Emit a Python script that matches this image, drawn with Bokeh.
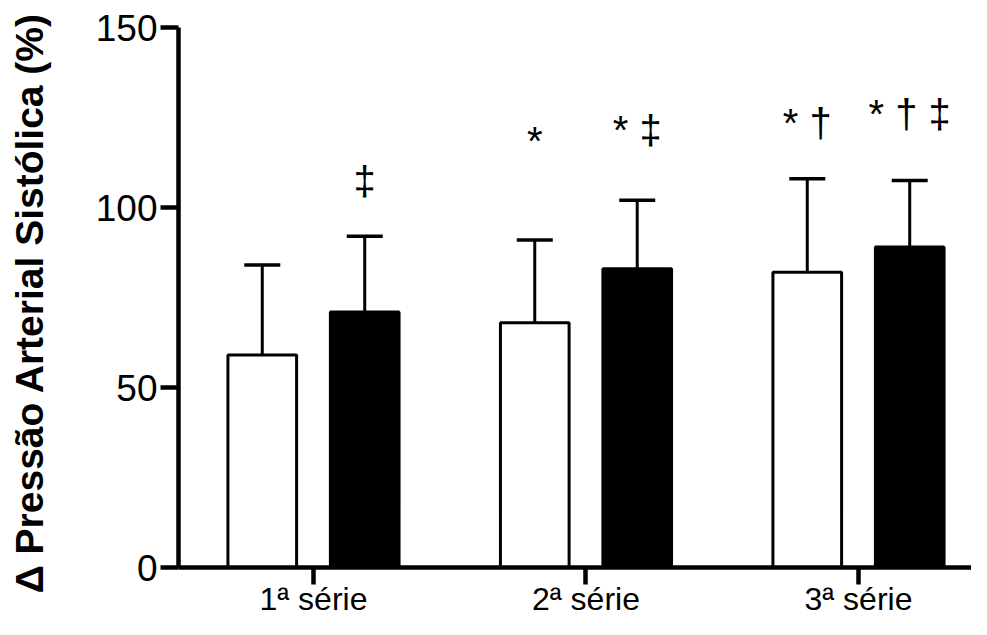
from bokeh.plotting import figure
from bokeh.models import Range1d, FixedTicker, Whisker, TeeHead, ColumnDataSource
from bokeh.embed import file_html
from bokeh.resources import INLINE
from bokeh.core.properties import value

# ---- data ----
categories = ["1ª série", "2ª série", "3ª série"]
control_mean = [59, 68, 82]
control_sd = [25, 23, 26]
exercise_mean = [71, 83, 89]
exercise_sd = [21, 19, 18.5]
control_marks = ["", "*", "* †"]
control_mark_y = [0, 118.5, 123.5]
exercise_marks = ["‡", "* ‡", "* † ‡"]
exercise_mark_y = [107.5, 121.5, 126]
y_ticks = [0, 50, 100, 150]
y_label = "Δ Pressão  Arterial Sistólica (%)"

FONT = "Liberation Sans"
pos = [i + 1 for i in range(len(categories))]
off = 0.188
bw = 0.252

p = figure(width=971, height=619, output_backend="svg", toolbar_location=None,
           x_range=Range1d(0.5046, 3.4147), y_range=Range1d(0, 150),
           min_border_left=178, min_border_right=0, min_border_top=27, min_border_bottom=49)
p.background_fill_color = "white"
p.border_fill_color = "white"
p.outline_line_color = None
p.grid.visible = False

def group(mean, sd, dx, fill, marks, mark_y):
    xs = [x + dx for x in pos]
    tops = [m + s for m, s in zip(mean, sd)]
    src = ColumnDataSource(dict(x=xs, mean=mean, top=tops))
    p.vbar(x="x", top="mean", bottom=0, width=bw, source=src,
           fill_color=fill, line_color="black", line_width=3)
    w = Whisker(base="x", lower="mean", upper="top", source=src,
                line_color="black", line_width=3,
                upper_head=TeeHead(size=36, line_width=3.5, line_color="black"),
                lower_head=None)
    p.add_layout(w)
    mx = [x for x, t in zip(xs, marks) if t]
    my = [y for y, t in zip(mark_y, marks) if t]
    mt = [t for t in marks if t]
    p.text(x=mx, y=my, text=mt, text_align="center", text_baseline="middle",
           text_font=value(FONT), text_font_size="40px", text_color="black")

group(control_mean, control_sd, -off, "white", control_marks, control_mark_y)
group(exercise_mean, exercise_sd, off, "black", exercise_marks, exercise_mark_y)

xa = p.xaxis[0]
xa.ticker = FixedTicker(ticks=pos)
xa.major_label_overrides = {x: c for x, c in zip(pos, categories)}
xa.minor_tick_line_color = None
xa.major_tick_in = 0
xa.major_tick_out = 17
xa.major_tick_line_width = 4.5
xa.axis_line_width = 4.5
xa.major_label_text_font = FONT
xa.major_label_text_font_size = "32px"
xa.major_label_text_color = "black"
xa.major_label_standoff = -4

ya = p.yaxis[0]
ya.ticker = FixedTicker(ticks=y_ticks)
ya.minor_tick_line_color = None
ya.major_tick_in = 0
ya.major_tick_out = 18
ya.major_tick_line_width = 4.5
ya.axis_line_width = 4.5
ya.major_label_text_font = FONT
ya.major_label_text_font_size = "37px"
ya.major_label_text_color = "black"
ya.major_label_standoff = 3
ya.axis_label = y_label
ya.axis_label_text_font = FONT
ya.axis_label_text_font_size = "39px"
ya.axis_label_text_font_style = "bold"
ya.axis_label_text_color = "black"
ya.axis_label_standoff = 42

open("out.html", "w").write(file_html(p, INLINE))
